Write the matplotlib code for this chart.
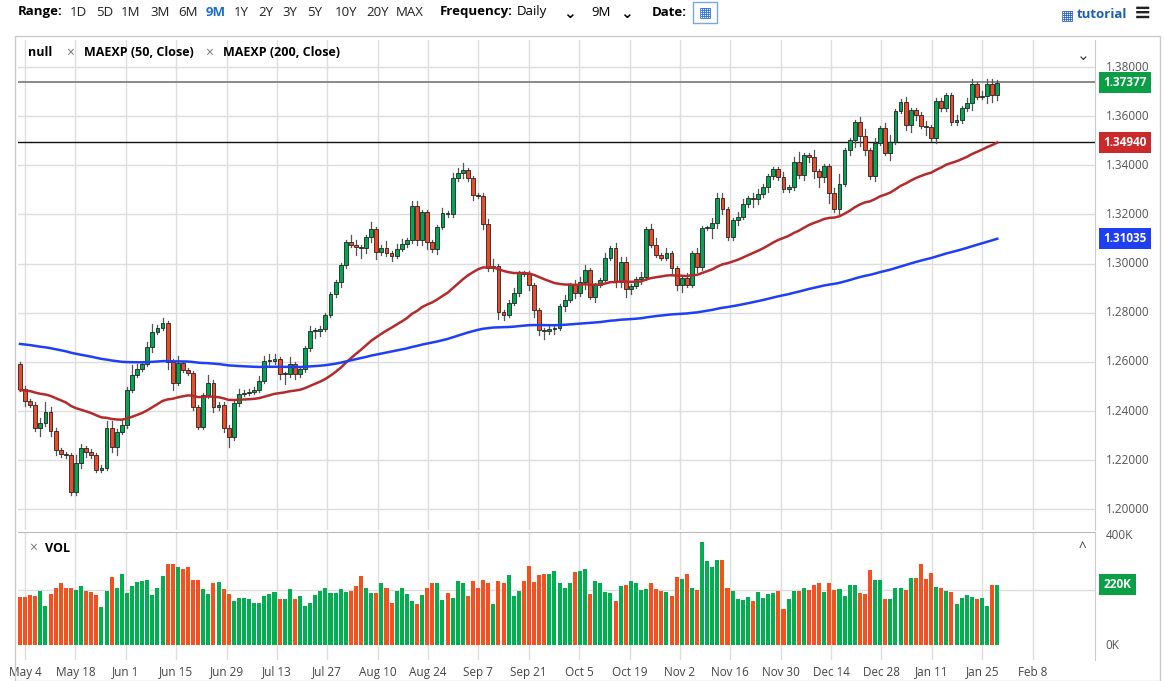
import numpy as np
import matplotlib.pyplot as plt
from matplotlib.patches import Rectangle

# daily closes, May 1 -> Jan 28
closes = [
    1.2490, 1.2440, 1.2425, 1.2330, 1.2350, 1.2396, 1.2320, 1.2240, 1.2225, 1.2220,
    1.2070, 1.2190, 1.2248, 1.2235, 1.2220, 1.2160, 1.2170, 1.2331, 1.2253, 1.2315,
    1.2343, 1.2486, 1.2547, 1.2571, 1.2592, 1.2662, 1.2723, 1.2740, 1.2758, 1.2600,
    1.2515, 1.2595, 1.2567, 1.2555, 1.2416, 1.2335, 1.2465, 1.2515, 1.2416, 1.2425,
    1.2333, 1.2293, 1.2432, 1.2470, 1.2475, 1.2478, 1.2487, 1.2523,
    1.2603, 1.2603, 1.2612, 1.2550, 1.2550, 1.2590, 1.2550, 1.2570, 1.2656, 1.2726,
    1.2727, 1.2735, 1.2791, 1.2876, 1.2925, 1.2994, 1.3088, 1.3076, 1.3066, 1.3063,
    1.3108, 1.3141, 1.3047, 1.3064, 1.3043, 1.3031, 1.3061, 1.3079, 1.3095, 1.3234,
    1.3096, 1.3210, 1.3088, 1.3059, 1.3149, 1.3206, 1.3200, 1.3348, 1.3369, 1.3381,
    1.3348, 1.3279, 1.3276, 1.3161, 1.2982, 1.2990, 1.2803,
    1.2791, 1.2840, 1.2880, 1.2962, 1.2958, 1.2913, 1.2811, 1.2730, 1.2725, 1.2735,
    1.2738, 1.2827, 1.2852, 1.2913, 1.2880, 1.2925, 1.2974, 1.2864, 1.2913, 1.2933,
    1.3023, 1.3063, 1.2925, 1.3006, 1.2896, 1.2909, 1.2937, 1.2945, 1.3141, 1.3076,
    1.3035, 1.3023, 1.3043, 1.2982, 1.2913, 1.2941, 1.2913, 1.3043, 1.2986, 1.3145,
    1.3145, 1.3165, 1.3267, 1.3222, 1.3108, 1.3177, 1.3190,
    1.3242, 1.3267, 1.3262, 1.3283, 1.3312, 1.3356, 1.3385, 1.3352, 1.3303, 1.3310,
    1.3413, 1.3360, 1.3442, 1.3434, 1.3377, 1.3352, 1.3397, 1.3287, 1.3222, 1.3324,
    1.3462, 1.3503, 1.3576, 1.3519, 1.3462, 1.3356, 1.3491, 1.3552, 1.3450, 1.3495,
    1.3621, 1.3658, 1.3564, 1.3625, 1.3605, 1.3560, 1.3555, 1.3511, 1.3662, 1.3633,
    1.3686, 1.3576, 1.3584, 1.3633, 1.3654, 1.3731, 1.3678, 1.3682, 1.3731, 1.3686,
    1.3737,
]
first_open = 1.2590

# upper / lower wick lengths in 0.001 units
wick_up = [
    1, 1, 1, 1, 2, 4, 2, 1, 1, 1, 1, 3, 2, 1, 1, 1, 1, 3, 3, 1,
    2, 1, 4, 2, 1, 2, 3, 1, 2, 1, 1, 3, 1, 1, 1, 1, 1, 3, 1, 1,
    1, 1, 1, 2, 1, 1, 1, 2, 2, 3, 2, 1, 1, 3, 1, 1, 1, 2, 1, 1,
    1, 1, 1, 1, 1, 3, 2, 1, 1, 3, 1, 1, 3, 1, 2, 2, 1, 2, 2, 1,
    1, 1, 1, 2, 1, 2, 2, 3, 1, 1, 1, 1, 2, 3, 1, 1, 1, 2, 1, 1,
    1, 1, 1, 1, 1, 1, 1, 2, 1, 2, 2, 2, 1, 1, 1, 2, 1, 2, 2, 2,
    1, 1, 2, 1, 2, 3, 1, 2, 1, 1, 1, 2, 1, 2, 1, 1, 2, 2, 2, 1,
    1, 2, 2, 1, 2, 2, 1, 1, 1, 1, 2, 1, 2, 4, 1, 1, 3, 1, 1, 1,
    2, 4, 1, 1, 1, 2, 3, 1, 2, 1, 2, 3, 1, 1, 2, 1, 1, 1, 2, 1,
    1, 1, 1, 1, 2, 1, 2, 2, 1, 2, 2, 2, 1,
]
wick_dn = [
    1, 2, 1, 1, 3, 1, 2, 2, 1, 1, 1, 1, 2, 2, 1, 1, 1, 1, 2, 3,
    1, 1, 1, 1, 1, 1, 2, 1, 1, 3, 3, 1, 1, 1, 1, 1, 1, 1, 2, 1,
    2, 4, 1, 1, 1, 1, 1, 1, 1, 2, 1, 2, 4, 1, 2, 1, 1, 1, 3, 2,
    1, 1, 1, 2, 1, 1, 3, 4, 2, 2, 3, 1, 1, 2, 1, 1, 1, 1, 2, 2,
    3, 1, 2, 1, 1, 1, 1, 2, 1, 2, 1, 2, 1, 1, 3, 2, 1, 1, 1, 1,
    2, 3, 2, 3, 1, 2, 1, 2, 1, 2, 1, 3, 1, 2, 1, 1, 1, 2, 2, 3,
    2, 1, 2, 1, 1, 1, 1, 1, 2, 2, 3, 1, 1, 2, 1, 1, 4, 2, 2, 1,
    1, 2, 1, 1, 3, 2, 1, 2, 1, 1, 1, 1, 1, 1, 2, 2, 3, 4, 2, 4,
    1, 2, 1, 2, 3, 4, 2, 1, 2, 1, 1, 3, 1, 1, 2, 3, 2, 1, 3, 1,
    2, 1, 1, 1, 1, 1, 1, 3, 1, 1, 3, 3, 2,
]

# volume in thousands
volume = [
    173, 173, 182, 178, 196, 142, 184, 209, 227, 209, 209, 200, 214, 196, 191, 182, 137, 196, 248, 209,
    257, 188, 215, 230, 234, 236, 182, 206, 252, 295, 294, 282, 276, 282, 236, 238, 203, 184, 226, 230,
    202, 185, 160, 172, 172, 167, 154, 154, 178, 185, 194, 167, 166, 202, 166, 178, 142, 151, 182, 197,
    209, 190, 188, 202, 194, 197, 215, 250, 209, 190, 188, 226, 209, 154, 197, 209, 184, 160, 148, 182,
    206, 226, 226, 163, 188, 172, 232, 227, 179, 232, 209, 236, 224, 149, 234, 224, 254,
    179, 196, 232, 289, 230, 254, 258, 260, 270, 227, 206, 227, 265, 269, 275, 184, 234, 224, 192,
    189, 159, 214, 217, 234, 224, 200, 203, 225, 202, 196, 192, 180, 246, 240, 259, 206, 201, 374, 305,
    283, 310, 310, 209, 198, 167, 163, 175, 161, 191, 172, 184, 188, 195, 132, 167, 198, 198, 209, 200,
    218, 224, 192, 224, 200, 205, 180, 218, 218, 190, 186, 271, 238, 236, 167, 166, 206, 209, 200, 242, 242,
    294, 241, 261, 212, 207, 196, 192, 149, 171, 182, 174, 167, 172, 143, 217, 220,
]

date_labels = ["May 4", "May 18", "Jun 1", "Jun 15", "Jun 29", "Jul 13", "Jul 27", "Aug 10",
               "Aug 24", "Sep 7", "Sep 21", "Oct 5", "Oct 19", "Nov 2", "Nov 16", "Nov 30",
               "Dec 14", "Dec 28", "Jan 11", "Jan 25", "Feb 8"]
price_ticks = [1.20, 1.22, 1.24, 1.26, 1.28, 1.30, 1.32, 1.34, 1.36, 1.38]
ranges = ["1D", "5D", "1M", "3M", "6M", "9M", "1Y", "2Y", "3Y", "5Y", "10Y", "20Y", "MAX"]

GREEN = "#00a651"
RED = "#ee4a2a"
VGREEN = "#00b050"
VRED = "#f4511e"
GRID = "#dddddd"

n = len(closes)
c = np.array(closes)
o = np.concatenate([[first_open], c[:-1]])
hi = np.maximum(o, c) + np.array(wick_up[:n]) * 0.001
lo = np.minimum(o, c) - np.array(wick_dn[:n]) * 0.001
x = np.linspace(-1, 193, n)
xv = np.linspace(-1, 193, len(volume))
up = c >= o


def ema(vals, period, seed):
    a = 2.0 / (period + 1)
    out = []
    e = seed
    for v in vals:
        e = a * v + (1 - a) * e
        out.append(e)
    return np.array(out)


ema50 = ema(c, 50, 1.2485)
ema200 = ema(c, 200, 1.2675)

W, H = 1164, 681
plt.rcParams["font.family"] = "Open Sans"
fig = plt.figure(figsize=(W / 100, H / 100), dpi=100)


def fx(px):
    return px / W


def fy(py):
    return 1 - py / H


ax = fig.add_axes([fx(18), fy(530), fx(1095 - 18), (530 - 40) / H])
axv = fig.add_axes([fx(18), fy(660), fx(1095 - 18), (660 - 532) / H])

xlim = (-1.4, 212.4)
day_pos = [k * 10 for k in range(len(date_labels))]

# price panel
ax.set_xlim(*xlim)
ax.set_ylim(1.1916, 1.391)
for p in price_ticks:
    ax.axhline(p, color=GRID, lw=1, zorder=0)
for d in day_pos:
    ax.axvline(d, color=GRID, lw=1, zorder=0)
for i in range(n):
    col = GREEN if up[i] else RED
    ax.plot([x[i], x[i]], [lo[i], hi[i]], color="#555555", lw=0.9, zorder=2)
    b0, b1 = min(o[i], c[i]), max(o[i], c[i])
    ax.add_patch(Rectangle((x[i] - 0.38, b0), 0.76, max(b1 - b0, 0.0003),
                           facecolor=col, edgecolor="#222222", lw=0.6, zorder=3))
ax.plot(x, ema50, color="#b52a2a", lw=1.8, zorder=4)
ax.plot(x, ema200, color="#1f3ff5", lw=1.8, zorder=4)
ax.axhline(1.37377, color="#777777", lw=1.2, zorder=1)
ax.axhline(1.34940, color="#111111", lw=1.0, zorder=1)
ax.set_xticks([])
ax.set_yticks([])
for s in ax.spines.values():
    s.set_visible(False)
ax.spines["right"].set_visible(True)
ax.spines["right"].set_color("#cccccc")

for p in price_ticks:
    ax.text(1.01, (p - 1.1916) / (1.391 - 1.1916), f"{p:.5f}", transform=ax.transAxes,
            fontsize=8.5, color="#555555", va="center", ha="left")


def price_tag(val, col):
    yy = (val - 1.1916) / (1.391 - 1.1916)
    ax.text(1.008, yy, f"{val:.5f}", transform=ax.transAxes, fontsize=8.5, color="white",
            fontweight="bold", va="center", ha="left",
            bbox=dict(boxstyle="square,pad=0.35", facecolor=col, edgecolor="none"))


price_tag(1.37377, "#0a9e45")
price_tag(1.34940, "#cc2a2a")
price_tag(1.31035, "#1f3ff5")

# volume panel, coloured like the nearest candle
axv.set_xlim(*xlim)
axv.set_ylim(-54.5, 411)
axv.axhline(200, color=GRID, lw=1, zorder=0)
for d in day_pos:
    axv.axvline(d, color=GRID, lw=1, zorder=0)
near = np.abs(xv[:, None] - x[None, :]).argmin(axis=1)
vcol = [VGREEN if up[k] else VRED for k in near]
axv.bar(xv, volume, width=0.8, color=vcol, zorder=2)
axv.set_yticks([])
axv.set_xticks(day_pos)
axv.set_xticklabels(date_labels, fontsize=8.5, color="#444444")
axv.tick_params(axis="x", length=0, pad=4)
for s in axv.spines.values():
    s.set_visible(False)
axv.spines["right"].set_visible(True)
axv.spines["right"].set_color("#cccccc")
axv.spines["top"].set_visible(True)
axv.spines["top"].set_color("#bbbbbb")
for v, lab in [(400, "400K"), (0, "0K")]:
    axv.text(1.01, (v + 54.5) / 465.5, lab, transform=axv.transAxes, fontsize=8.5,
             color="#555555", va="center", ha="left")
axv.text(1.008, (220 + 54.5) / 465.5, "220K", transform=axv.transAxes, fontsize=8.5,
         color="white", fontweight="bold", va="center", ha="left",
         bbox=dict(boxstyle="square,pad=0.35", facecolor="#0a9e45", edgecolor="none"))

# header / legend texts
SYM = "DejaVu Sans"
fig.text(fx(28), fy(53), "null", fontsize=9, fontweight="bold", va="center")
fig.text(fx(66), fy(53), "×", fontsize=10, color="#777777", va="center")
fig.text(fx(84), fy(53), "MAEXP (50, Close)", fontsize=9, fontweight="bold", va="center")
fig.text(fx(205), fy(53), "×", fontsize=10, color="#777777", va="center")
fig.text(fx(223), fy(53), "MAEXP (200, Close)", fontsize=9, fontweight="bold", va="center")
fig.text(fx(1083), fy(55), "⌄", fontsize=11, color="#444444", va="center", ha="center", family=SYM)
fig.text(fx(29), fy(548), "×", fontsize=10, color="#777777", va="center")
fig.text(fx(45), fy(548), "VOL", fontsize=9, fontweight="bold", va="center")
fig.text(fx(1082), fy(549), "^", fontsize=10, color="#444444", va="center", ha="center")

fig.text(fx(18), fy(12), "Range:", fontsize=9.5, fontweight="bold", va="center")
range_px = [70, 96, 121, 150, 178, 206, 234, 258, 282, 307, 335, 366, 396]
for r, px in zip(ranges, range_px):
    fig.text(fx(px), fy(12), r, fontsize=9.5, va="center",
             color="#1a6fd1" if r == "9M" else "#222222",
             fontweight="bold" if r == "9M" else "normal")
fig.text(fx(440), fy(12), "Frequency:", fontsize=9.5, fontweight="bold", va="center")
fig.text(fx(517), fy(12), "Daily", fontsize=9.5, va="center")
fig.text(fx(563), fy(13), "⌄", fontsize=11, fontweight="bold", va="center", family=SYM)
fig.text(fx(591), fy(12), "9M", fontsize=9.5, va="center")
fig.text(fx(620), fy(13), "⌄", fontsize=11, fontweight="bold", va="center", family=SYM)
fig.text(fx(652), fy(12), "Date:", fontsize=9.5, fontweight="bold", va="center")
fig.patches.append(Rectangle((fx(693), fy(23)), fx(24), 21 / H, transform=fig.transFigure,
                             facecolor="white", edgecolor="#7aa7dd", lw=1))
fig.text(fx(705), fy(12), "▦", fontsize=10, color="#1a6fd1", va="center", ha="center", family=SYM)
fig.text(fx(1067), fy(15), "▦", fontsize=10, color="#1a5fb4", va="center", ha="center", family=SYM)
fig.text(fx(1077), fy(15), "tutorial", fontsize=9.5, fontweight="bold", color="#1a5fb4", va="center")
fig.text(fx(1143), fy(13), "≡", fontsize=15, fontweight="bold", color="#222222", va="center",
         ha="center", family=SYM)

# outer frame of the chart area
fig.patches.append(Rectangle((fx(15), 0), fx(1145), fy(36), transform=fig.transFigure,
                             facecolor="none", edgecolor="#cccccc", lw=1))

fig.savefig("out.png", dpi=100)
